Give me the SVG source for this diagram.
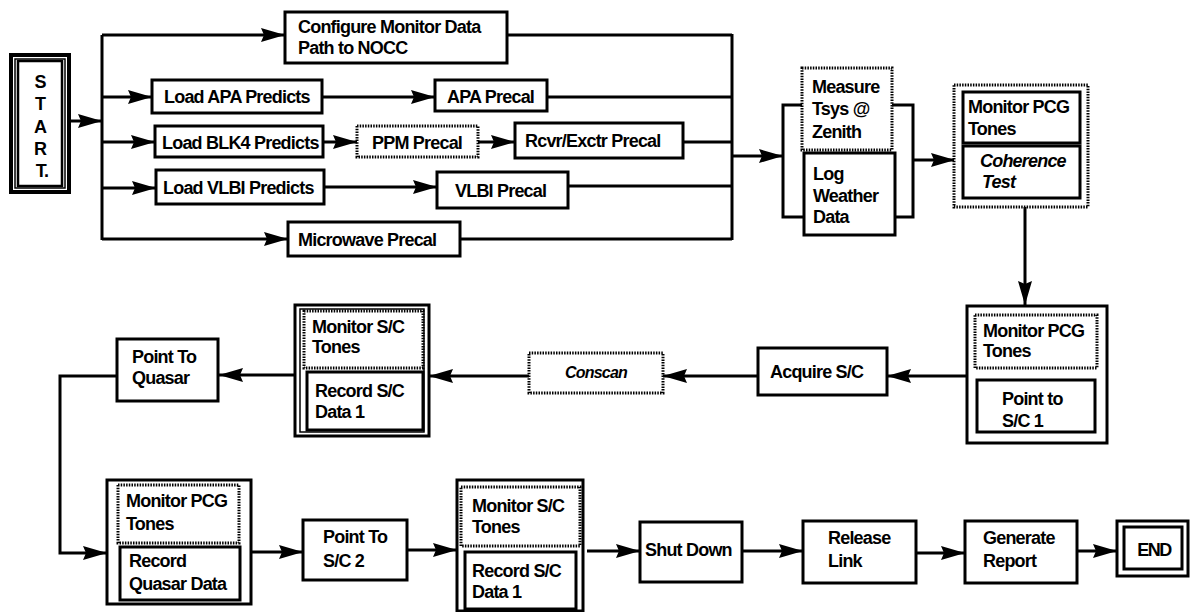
<svg xmlns="http://www.w3.org/2000/svg" width="1190" height="612" viewBox="0 0 1190 612">
<style>
.b{fill:#fff;stroke:#000;stroke-width:3}
.b2{fill:none;stroke:#000;stroke-width:1.5}
.d{fill:#fff;stroke:#000;stroke-width:3;stroke-dasharray:1.5 1.2}
.c{fill:none;stroke:#000;stroke-width:3}
.a{marker-end:url(#ah)}
text{font-family:"Liberation Sans",Arial,Helvetica,sans-serif;font-weight:bold;font-size:18px;letter-spacing:-0.8px;fill:#000}
.i{font-style:italic}
.m{text-anchor:middle}
</style>
<defs>
<marker id="ah" markerWidth="26" markerHeight="18" refX="24" refY="8" orient="auto" markerUnits="userSpaceOnUse">
<path d="M0,1 L24,8 L0,15 L3,8 Z" fill="#000"/>
</marker>
</defs>
<rect width="1190" height="612" fill="#fff"/>

<g id="connectors">
<line class="c a" x1="70" y1="121" x2="102" y2="121"/>
<line class="c" x1="102" y1="35" x2="102" y2="240"/>
<line class="c a" x1="102" y1="35" x2="285" y2="35"/>
<line class="c a" x1="102" y1="97" x2="152" y2="97"/>
<line class="c a" x1="102" y1="142" x2="155" y2="142"/>
<line class="c a" x1="102" y1="188" x2="156" y2="188"/>
<line class="c a" x1="102" y1="239" x2="288" y2="239"/>
<line class="c a" x1="322" y1="97" x2="435" y2="97"/>
<line class="c a" x1="323" y1="142" x2="357" y2="142"/>
<line class="c a" x1="478" y1="142" x2="515" y2="142"/>
<line class="c a" x1="324" y1="187" x2="437" y2="187"/>
<line class="c" x1="507" y1="35" x2="732" y2="35"/>
<line class="c" x1="547" y1="97" x2="732" y2="97"/>
<line class="c" x1="683" y1="142" x2="732" y2="142"/>
<line class="c" x1="568" y1="186" x2="732" y2="186"/>
<line class="c" x1="460" y1="239" x2="732" y2="239"/>
<line class="c" x1="732" y1="34" x2="732" y2="240"/>
<line class="c a" x1="732" y1="156" x2="783" y2="156"/>
<polyline class="c" points="802,105 783,105 783,217 804,217"/>
<polyline class="c" points="892,105 913,105 913,217 895,217"/>
<line class="c a" x1="913" y1="160" x2="955" y2="160"/>
<line class="c a" x1="1025" y1="207" x2="1025" y2="305"/>
<line class="c a" x1="967" y1="376" x2="887" y2="376"/>
<line class="c a" x1="758" y1="376" x2="663" y2="376"/>
<line class="c a" x1="529" y1="376" x2="429" y2="376"/>
<line class="c a" x1="295" y1="375" x2="219" y2="375"/>
<polyline class="c a" points="117,376 60,376 60,553 107,553"/>
<line class="c a" x1="251" y1="552" x2="303" y2="552"/>
<line class="c a" x1="407" y1="550" x2="457" y2="550"/>
<line class="c a" x1="587" y1="551" x2="640" y2="551"/>
<line class="c a" x1="742" y1="551" x2="803" y2="551"/>
<line class="c a" x1="916" y1="553" x2="965" y2="553"/>
<line class="c a" x1="1078" y1="551" x2="1117" y2="551"/>
</g>

<g id="start">
<rect x="11" y="55" width="58" height="137" fill="#fff" stroke="#000" stroke-width="4"/>
<rect x="15" y="59" width="50" height="129" class="b2"/>
<rect x="18" y="61" width="44" height="125" fill="none" stroke="#000" stroke-width="2.5"/>
<text x="40" y="88" class="m">S</text>
<text x="40" y="110" class="m">T</text>
<text x="40" y="133" class="m">A</text>
<text x="40" y="155" class="m">R</text>
<text x="42" y="177" class="m">T.</text>
</g>

<g id="configure">
<rect x="285" y="12" width="222" height="51" class="b"/>
<text x="298" y="33">Configure Monitor Data</text>
<text x="298" y="54">Path to NOCC</text>
</g>

<g id="load-apa">
<rect x="152" y="80" width="170" height="33" class="b"/>
<text x="164" y="103">Load APA Predicts</text>
</g>
<g id="apa-precal">
<rect x="435" y="80" width="112" height="31" class="b"/>
<text x="447" y="103">APA Precal</text>
</g>

<g id="load-blk4">
<rect x="155" y="126" width="168" height="31" class="b"/>
<text x="162" y="149">Load BLK4 Predicts</text>
</g>
<g id="ppm-precal">
<rect x="357" y="126" width="121" height="31" class="d"/>
<text x="372" y="149">PPM Precal</text>
</g>
<g id="rcvr-precal">
<rect x="515" y="123" width="168" height="35" class="b"/>
<text x="525" y="147">Rcvr/Exctr Precal</text>
</g>

<g id="load-vlbi">
<rect x="156" y="170" width="168" height="34" class="b"/>
<text x="163" y="194">Load VLBI Predicts</text>
</g>
<g id="vlbi-precal">
<rect x="437" y="172" width="131" height="36" class="b"/>
<text x="455" y="197">VLBI Precal</text>
</g>

<g id="microwave">
<rect x="288" y="222" width="172" height="34" class="b"/>
<text x="298" y="246">Microwave Precal</text>
</g>

<g id="measure-tsys">
<rect x="802" y="68" width="90" height="82" class="d"/>
<text x="812" y="93">Measure</text>
<text x="812" y="115">Tsys @</text>
<text x="812" y="138">Zenith</text>
</g>
<g id="log-weather">
<rect x="804" y="153" width="91" height="82" class="b"/>
<text x="813" y="180">Log</text>
<text x="813" y="202">Weather</text>
<text x="813" y="223">Data</text>
</g>

<g id="pcg-coherence">
<rect x="954" y="85" width="134" height="122" class="d"/>
<rect x="963" y="92" width="117" height="51" class="b"/>
<rect x="963" y="146" width="117" height="52" class="b"/>
<text x="968" y="113">Monitor PCG</text>
<text x="968" y="135">Tones</text>
<text x="980" y="167" class="i">Coherence</text>
<text x="982" y="188" class="i">Test</text>
</g>

<g id="pcg-point-sc1">
<rect x="967" y="306" width="140" height="137" class="b"/>
<rect x="975" y="315" width="122" height="53" class="d"/>
<rect x="977" y="380" width="118" height="52" class="b"/>
<text x="983" y="337">Monitor PCG</text>
<text x="983" y="357">Tones</text>
<text x="1002" y="405">Point to</text>
<text x="1002" y="427">S/C 1</text>
</g>

<g id="acquire-sc">
<rect x="758" y="348" width="129" height="47" class="b"/>
<text x="770" y="378">Acquire S/C</text>
</g>

<g id="conscan">
<rect x="529" y="353" width="134" height="40" class="d"/>
<text x="596" y="378" class="i m" style="font-size:16px">Conscan</text>
</g>

<g id="monitor-record-sc-mid">
<rect x="295" y="305" width="134" height="131" class="b"/>
<rect x="300" y="309" width="124" height="123" class="b2"/>
<rect x="304" y="311" width="119" height="57" class="d"/>
<rect x="307" y="372" width="116" height="58" class="b"/>
<text x="312" y="333">Monitor S/C</text>
<text x="312" y="353">Tones</text>
<text x="315" y="397">Record S/C</text>
<text x="315" y="418">Data 1</text>
</g>

<g id="point-quasar">
<rect x="117" y="339" width="101" height="62" class="b"/>
<text x="132" y="363">Point To</text>
<text x="132" y="384">Quasar</text>
</g>

<g id="pcg-record-quasar">
<rect x="107" y="480" width="144" height="124" class="b"/>
<rect x="118" y="485" width="121" height="58" class="d"/>
<rect x="120" y="547" width="120" height="53" class="b"/>
<text x="126" y="507">Monitor PCG</text>
<text x="126" y="530">Tones</text>
<text x="129" y="567">Record</text>
<text x="129" y="590">Quasar Data</text>
</g>

<g id="point-sc2">
<rect x="303" y="520" width="104" height="60" class="b"/>
<text x="323" y="543">Point To</text>
<text x="323" y="567">S/C 2</text>
</g>

<g id="monitor-record-sc-bottom">
<rect x="457" y="480" width="126" height="131" class="b"/>
<rect x="461" y="487" width="119" height="59" class="d"/>
<rect x="465" y="552" width="111" height="57" class="b"/>
<text x="472" y="512">Monitor S/C</text>
<text x="472" y="533">Tones</text>
<text x="472" y="577">Record S/C</text>
<text x="472" y="598">Data 1</text>
</g>

<g id="shut-down">
<rect x="640" y="522" width="102" height="60" class="b"/>
<text x="645" y="556">Shut Down</text>
</g>

<g id="release-link">
<rect x="803" y="521" width="113" height="62" class="b"/>
<text x="828" y="544">Release</text>
<text x="828" y="567">Link</text>
</g>

<g id="generate-report">
<rect x="965" y="521" width="112" height="62" class="b"/>
<text x="983" y="544">Generate</text>
<text x="983" y="567">Report</text>
</g>

<g id="end">
<rect x="1117" y="521" width="71" height="55" class="b"/>
<rect x="1124" y="527" width="58" height="42" class="b"/>
<text x="1154" y="556" class="m" style="letter-spacing:-1.5px">END</text>
</g>
</svg>
